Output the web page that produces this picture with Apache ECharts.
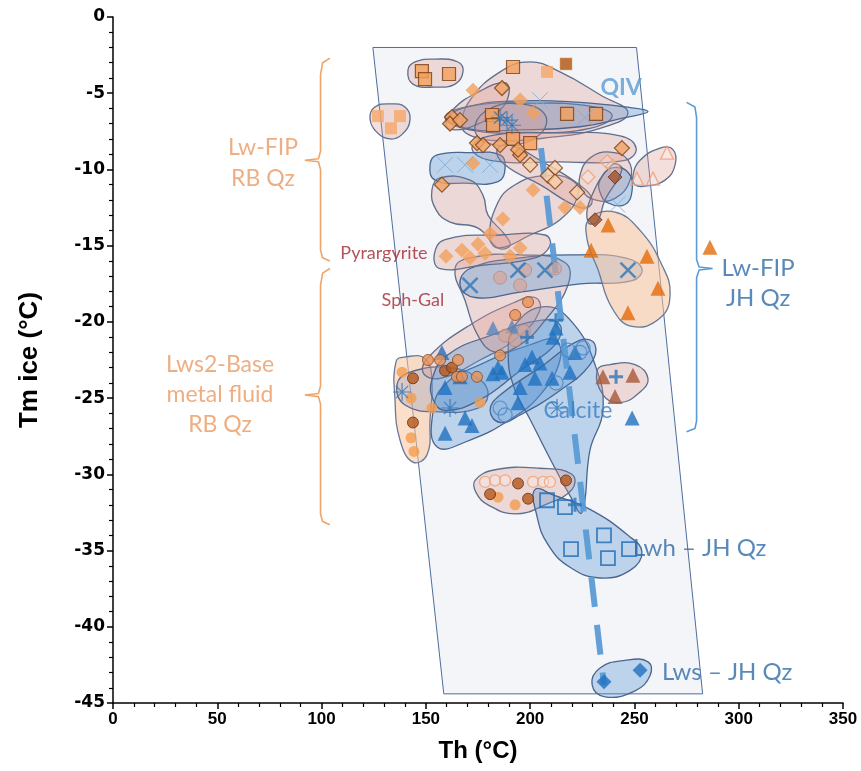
<!DOCTYPE html>
<html><head><meta charset="utf-8">
<script src="https://cdn.jsdelivr.net/npm/echarts@6/dist/echarts.min.js"></script>
<style>html,body{margin:0;padding:0;background:#fff}#c{width:861px;height:771px}</style>
</head><body><div id="c"></div>
<script>
// ---------- axes ----------
const xTicks = [0, 50, 100, 150, 200, 250, 300, 350];
const yTicks = [-45, -40, -35, -30, -25, -20, -15, -10, -5, 0];

// ---------- QIV field (tilted box) ----------
const qivField = [[124.6, -2], [251, -2], [282.7, -44.4], [158.6, -44.4]];

// ---------- trend (dashed) ----------
const trendLine = [[205.2, -8.6], [235.4, -43.8]];

// ---------- envelopes (data coords) ----------
const envTopLeft = [[141.4,-3.5],[144.8,-2.95],[154.4,-2.76],[165.4,-2.95],[167.8,-3.6],[164.0,-4.4],[154.4,-4.6],[143.8,-4.4]];
const envLeftSmall = [[123.2,-6.6],[125.6,-5.9],[132.8,-5.7],[140.0,-5.9],[142.4,-6.75],[138.6,-7.7],[132.8,-8.0],[126.1,-7.5]];
const envBigTop = [[167.3,-7.1],[171.2,-5.45],[185.6,-3.6],[200,-2.95],[214.3,-3.6],[233.5,-5.1],[246.9,-6.3],[233.5,-7.3],[209.5,-7.9],[183.2,-8.1],[170.3,-7.7]];
const envTiltTop = [[159.7,-7.1],[163.5,-6.0],[175.5,-4.9],[187.5,-4.3],[190.0,-4.9],[185.6,-6.1],[173.6,-7.1],[164.0,-7.4]];
const envQIVBlue = [[161.6,-6.6],[171.2,-5.85],[195.2,-5.5],[223.9,-5.6],[245.5,-5.9],[256.5,-6.2],[245.5,-6.6],[223.9,-7.2],[195.2,-7.4],[171.2,-7.35]];
const envTopInner = [[159.2,-6.6],[171.2,-5.85],[200,-5.65],[228.7,-5.85],[239.3,-6.5],[228.7,-7.3],[200,-7.6],[171.2,-7.4]];
const envTopOval = [[173.6,-7.1],[180.8,-6.0],[195.2,-5.7],[207.1,-6.4],[204.7,-7.7],[190.4,-8.4],[177.4,-8.1]];
const envBand9 = [[172.1,-8.6],[180.8,-7.8],[214.3,-7.6],[243.1,-7.8],[250.8,-8.6],[245.5,-9.4],[214.3,-9.5],[180.8,-9.4]];
const envBlueLeft = [[152.0,-9.7],[155.4,-9.05],[171.2,-8.9],[185.6,-9.05],[188.0,-9.9],[184.6,-10.8],[168.8,-10.9],[154.4,-10.7]];
const envHatchBand = [[184.1,-8.7],[190.4,-8.4],[204.7,-9.4],[226.3,-11.3],[229.6,-12.2],[223.9,-12.5],[204.7,-11.0],[187.9,-9.7]];
const envOpenDia = [[223.9,-10.4],[228.7,-9.25],[238.3,-8.86],[247.0,-9.4],[247.9,-10.7],[240.7,-11.9],[231.1,-12.0],[224.8,-11.35]];
const envBlueSmall = [[233.5,-10.7],[239.3,-9.9],[247.0,-10.2],[248.9,-11.35],[245.5,-12.3],[237.4,-12.2],[233.5,-11.5]];
const envTiltRight = [[239.3,-9.7],[244.0,-10.0],[235.9,-12.0],[232.0,-13.45],[227.7,-13.45],[228.7,-12.0]];
const envOpenTri = [[249.3,-10.4],[252.7,-9.4],[262.3,-8.6],[268.5,-8.7],[269.5,-9.7],[264.7,-10.7],[255.1,-11.1],[250.3,-11.0]];
const envTiltLeft = [[152.9,-11.35],[156.8,-10.55],[171.2,-10.7],[177.4,-11.7],[179.8,-13.0],[188.0,-14.3],[190.4,-15.0],[184.6,-15.15],[175.0,-13.85],[161.6,-13.45],[154.9,-12.65]];
const envMid = [[180.8,-14.6],[184.1,-12.3],[192.8,-11.0],[207.1,-10.4],[220.0,-10.7],[222.9,-11.7],[214.3,-13.3],[200.0,-14.3],[185.6,-15.15]];
const envPyrargyrite = [[154.0,-15.6],[159.2,-14.6],[185.6,-14.3],[207.1,-14.3],[209.5,-15.0],[202.3,-15.8],[176.0,-16.3],[156.8,-16.5]];
const envSphGal = [[164.0,-16.5],[171.2,-15.8],[195.2,-15.6],[216.7,-16.1],[218.1,-17.6],[207.1,-19.9],[195.2,-21.5],[183.2,-21.98],[175.0,-20.9],[168.8,-18.6]];
const envJHTri = [[228.7,-13.2],[240.7,-12.8],[252.7,-14.0],[263.3,-16.3],[267.1,-18.2],[262.3,-19.75],[248.9,-20.3],[239.3,-19.1],[232.6,-16.6],[227.2,-14.5]];
const envSphBlue = [[166.4,-17.6],[171.2,-16.5],[195.2,-15.8],[223.9,-15.6],[245.5,-15.8],[253.6,-16.5],[248.9,-17.3],[223.9,-17.5],[195.2,-18.05],[173.6,-18.4]];
const envGalTilt = [[148.6,-23.3],[152.0,-22.2],[171.2,-20.2],[192.8,-18.7],[202.3,-18.4],[204.7,-19.2],[195.2,-20.9],[176.0,-22.5],[156.8,-23.7]];
const envBlueGray = [[152.9,-23.8],[160.1,-22.2],[180.8,-20.9],[204.7,-19.9],[214.3,-20.2],[211.9,-21.5],[195.2,-23.2],[176.0,-25.1],[159.2,-25.8],[153.5,-25.1]];
const envCalcite = [[192.8,-20.2],[207.1,-19.0],[220.0,-20.0],[231.1,-22.8],[234.9,-25.8],[228.7,-28.4],[224.8,-32.5],[219.1,-31.4],[208.5,-28.7],[200.0,-26.4],[192.8,-24.5],[189.5,-22.2]];
const envBlueLow = [[155.4,-28.2],[153.5,-25.8],[159.2,-24.1],[176.0,-22.8],[200.0,-21.5],[211.9,-21.2],[214.3,-22.5],[204.7,-24.8],[190.4,-26.4],[171.2,-27.75]];
const envBlueTilt = [[180.8,-25.8],[185.6,-24.8],[204.7,-23.0],[223.9,-21.2],[231.1,-21.5],[228.7,-22.8],[214.3,-24.5],[195.2,-26.1],[185.6,-26.6]];
const envLws2Gray = [[136.2,-24.1],[142.4,-23.3],[161.6,-23.0],[176.0,-23.8],[179.8,-24.8],[175.0,-25.65],[156.8,-25.9],[140.0,-25.45]];
const envLws2Tall = [[135.7,-22.6],[140.0,-22.3],[149.6,-22.4],[152.9,-23.8],[152.0,-26.4],[150.6,-28.7],[143.8,-29.2],[137.6,-27.75],[135.2,-25.1]];
const envBrownTri = [[232.1,-23.2],[238.3,-22.8],[250.3,-22.8],[256.5,-23.7],[252.7,-24.6],[243.1,-25.3],[235.0,-24.8]];
const envCircles = [[173.6,-30.4],[183.2,-29.7],[204.7,-29.6],[220.0,-30.0],[220.0,-31.0],[207.1,-32.0],[192.8,-32.6],[179.8,-32.0],[174.1,-31.2]];
const envLwh = [[202.3,-31.0],[211.9,-31.4],[228.7,-32.3],[246.9,-34.0],[253.6,-35.1],[247.9,-36.3],[233.5,-36.8],[219.1,-36.1],[208.5,-34.6],[203.2,-32.7]];
const envLws = [[229.7,-43.8],[233.5,-42.7],[245.5,-42.2],[256.5,-42.3],[257.5,-43.2],[250.3,-44.2],[235.9,-44.6]];

const envelopeShapes = [envLws2Tall, envLws2Gray, envBlueLow, envGalTilt, envBlueGray, envCalcite, envBlueTilt,
  envSphGal, envSphBlue, envJHTri, envBrownTri, envCircles, envLwh, envLws,
  envTopLeft, envLeftSmall, envBigTop, envTopInner, envQIVBlue, envTiltTop, envTopOval, envBand9, envBlueLeft,
  envTiltLeft, envMid, envHatchBand, envOpenDia, envBlueSmall, envTiltRight, envOpenTri, envPyrargyrite];
const envelopeGroup = ['orange','gray','blue','pink','blue','blue','blue',
  'pink','blue','orange','pink','pink','blue','blue',
  'pink','pink','pink','pink','blue','pink','pink','pink','blue',
  'pink','pink','pink','pink','blue','pink','pink','pink'];

// ---------- points ----------
const sqOrange = [[148.1,-3.55],[149.6,-4.07],[161.1,-3.74],[191.8,-3.28],[217.7,-6.36],[231.6,-6.36],[191.8,-8.0],[200.0,-8.27],[181.7,-6.43],[182.2,-7.09]];
const sqLight = [[127.0,-6.5],[137.6,-6.5],[133.3,-7.3],[208.1,-3.6]];
const sqBrown = [[217.2,-3.08]];
const diaOrange = [[162.5,-6.56],[161.6,-7.0],[166.4,-6.76],[186.5,-4.66],[174.5,-8.27],[177.4,-8.4],[185.6,-8.4],[195.2,-9.05],[244.0,-8.6],[194.2,-8.7],[157.7,-11.0]];
const diaHatched = [[211.9,-9.9],[208.5,-10.4],[211.9,-10.8],[222.5,-11.5],[200.0,-9.7]];
const diaOpen = [[227.7,-10.5],[236.9,-9.5],[239.7,-9.8]];
const diaBrown = [[240.7,-10.5],[231.1,-13.3]];
const diaLight = [[172.6,-4.8],[201.4,-6.3],[195.2,-5.45],[172.6,-9.6],[201.4,-11.35],[186.9,-13.25],[216.7,-12.5],[223.9,-12.5],
  [159.7,-15.7],[167.3,-15.3],[175.0,-14.9],[171.2,-15.8],[178.4,-15.5],[195.2,-15.15],[190.4,-15.7],[180.8,-14.2]];
const triJH = [[237.4,-13.65],[229.2,-15.3],[256.0,-15.7],[261.3,-17.8],[246.9,-19.4],[286.2,-15.1]];
const triOpen = [[251.2,-10.6],[258.9,-10.6],[265.6,-8.9]];
const triBrown = [[234.9,-23.6],[249.3,-23.5],[240.7,-24.9]];
const triBlue = [[157.7,-22.0],[159.2,-24.3],[166.4,-23.6],[168.8,-26.3],[159.2,-27.3],[172.1,-26.8],[184.6,-23.0],[182.2,-23.4],
  [186.5,-23.3],[194.2,-25.3],[195.2,-24.3],[197.6,-22.8],[200.9,-22.3],[204.7,-22.7],[211.0,-21.0],[202.3,-23.7],[210.5,-23.7],
  [219.1,-23.3],[212.4,-20.4],[248.9,-26.3],[221.5,-22.0]];
const triPale = [[182.2,-20.4],[191.3,-20.3]];
const plusBlue = [[212.4,-19.9],[198.5,-21.0],[241.2,-23.6],[221.5,-32.0]];
const starBlue = [[138.6,-24.6],[161.6,-25.65],[212.9,-25.65],[188.9,-6.76],[185.6,-6.6],[191.3,-7.1]];
const xBlue = [[171.2,-17.6],[194.2,-16.6],[207.1,-16.6],[246.9,-16.6]];
const xPale = [[159.2,-9.7],[168.8,-9.7],[180.8,-9.7],[204.7,-5.45],[226.3,-6.6],[241.7,-12.3]];
const circBlueOpen = [[185.6,-25.65],[188.0,-26.1],[218.1,-21.85],[223.9,-22.0],[225.4,-21.7],[212.4,-24.0]];
const sqBlueOpen = [[208.1,-31.7],[216.7,-32.15],[235.4,-34.0],[247.4,-34.9],[237.3,-35.5],[219.6,-34.9]];
const diaBlue = [[235.4,-43.6],[252.7,-42.85]];
const circOrange = [[138.6,-23.3],[142.9,-25.0],[152.9,-25.65],[142.9,-27.6],[144.3,-28.5],[176.0,-25.3],[184.6,-31.5],[192.8,-32.0]];
const circBrown = [[143.8,-23.7],[143.8,-26.6],[159.2,-23.2],[162.5,-23.0],[194.2,-30.6],[217.2,-30.4],[180.8,-31.3],[199.0,-31.6]];
const circBordered = [[151.0,-22.5],[156.8,-22.5],[165.4,-22.5],[164.9,-23.6],[167.3,-23.6],[174.5,-23.6],[185.6,-22.2],[192.8,-19.55],[199.0,-18.7]];
const circOpen = [[178.4,-30.5],[183.2,-30.4],[188.0,-30.4],[201.4,-30.5],[206.2,-30.5],[209.5,-30.5]];
const circStipple = [[185.6,-17.1],[197.6,-16.6],[211.9,-16.5],[195.2,-17.6],[188.0,-20.9],[192.8,-21.2],[197.0,-20.6]];

// ---------- braces ----------
const braceRB1 = [[104,-2.7],[100.5,-3.0],[99.5,-3.8],[99.5,-8.8],[98.5,-9.3],[92,-9.4],[98.5,-9.5],[99.5,-10.0],[99.5,-15.3],[100.5,-15.8],[104,-16.0]];
const braceRB2 = [[104,-16.5],[100.5,-16.8],[99.5,-17.6],[99.5,-24.2],[98.5,-24.7],[92,-24.8],[98.5,-24.9],[99.5,-25.4],[99.5,-32.6],[100.5,-33.1],[104,-33.3]];
const braceJH = [[275,-5.6],[279,-5.9],[279.8,-6.6],[279.8,-15.9],[281,-16.4],[287.5,-16.5],[281,-16.6],[279.8,-17.1],[279.8,-26.5],[279,-27.0],[275,-27.2]];

// ---------- annotations ----------
const annotTexts = ['QIV', 'Lw-FIP\nRB Qz', 'Lws2-Base\nmetal fluid\nRB Qz', 'Pyrargyrite', 'Sph-Gal', 'Calcite', 'Lwh – JH Qz', 'Lws – JH Qz', 'Lw-FIP\nJH Qz'];
const annotPos = [[243.6,-4.6],[71.9,-9.6],[51.3,-24.8],[129.9,-15.5],[143.8,-18.6],[222.9,-25.8],[249.3,-34.85],[263.2,-43.0],[309.3,-17.45]];

// ---------- styles ----------
const envStyle = {
  pink:   {fill:'rgba(222,150,140,0.30)', stroke:'#5f6f8e'},
  blue:   {fill:'rgba(78,142,210,0.33)', stroke:'#4a6690'},
  orange: {fill:'rgba(250,196,158,0.55)', stroke:'#6a7a95'},
  gray:   {fill:'rgba(140,150,190,0.30)', stroke:'#5a6a90'}
};
const annotStyle = [
  {color:'#5b9bd5', fontSize:23, fontWeight:'bold', align:'center'},
  {color:'#ea9a62', fontSize:23, align:'center', lineHeight:31},
  {color:'#ea9a62', fontSize:23, align:'center', lineHeight:30},
  {color:'#a3262e', fontSize:18, align:'center'},
  {color:'#a3262e', fontSize:18, align:'center'},
  {color:'#3b7fc4', fontSize:23, align:'center'},
  {color:'#2f6ca8', fontSize:24, align:'left'},
  {color:'#2f6ca8', fontSize:24, align:'left'},
  {color:'#2f6ca8', fontSize:24, align:'center', lineHeight:30}
];

const P_X = 'path://M0,0L10,10M10,0L0,10';
const P_PLUS = 'path://M5,0L5,10M0,5L10,5';
const P_STAR = 'path://M5,0L5,10M0,5L10,5M1.6,1.6L8.4,8.4M8.4,1.6L1.6,8.4';

function sc(name, data, symbol, size, item, z) {
  return {type:'scatter', name, data, symbol, symbolSize:size, itemStyle:item, z:z||5, silent:true, animation:false};
}

const chart = echarts.init(document.getElementById('c'));
const font = 'Liberation Sans, Arial, sans-serif';
const calib = 'Lato, Carlito, sans-serif';

const series = [
  {type:'custom', name:'field', data:[[0]], z:1, silent:true, animation:false,
   renderItem:(p, api)=>({type:'polygon', shape:{points:qivField.map(v=>api.coord(v))},
     style:{fill:'#f3f5f8', stroke:'#4d6e9e', lineWidth:1}})},
  {type:'custom', name:'envelopes', data:envelopeShapes.map((s,i)=>[i]), z:2, silent:true, animation:false,
   renderItem:(p, api)=>{
     const st = envStyle[envelopeGroup[p.dataIndex]];
     return {type:'polygon', shape:{points:envelopeShapes[p.dataIndex].map(v=>api.coord(v)), smooth:0.45},
       style:{fill:st.fill, stroke:st.stroke, lineWidth:1.3}};
   }},
  {type:'line', name:'trend', data:trendLine, symbol:'none', z:4, silent:true, animation:false,
   lineStyle:{color:'rgba(91,155,213,0.95)', width:6, type:[30,18], cap:'butt'}},
  {type:'line', data:braceRB1, symbol:'none', z:3, silent:true, animation:false, lineStyle:{color:'#f0a468', width:1.6}},
  {type:'line', data:braceRB2, symbol:'none', z:3, silent:true, animation:false, lineStyle:{color:'#f0a468', width:1.6}},
  {type:'line', data:braceJH, symbol:'none', z:3, silent:true, animation:false, lineStyle:{color:'#5b9bd5', width:1.6}},

  sc('sqOrange', sqOrange, 'rect', 13, {color:'#f4a05a', borderColor:'#7b3f14', borderWidth:1.2}),
  sc('sqLight', sqLight, 'rect', 12, {color:'#f6a866'}),
  sc('sqBrown', sqBrown, 'rect', 12, {color:'#b0520e', borderColor:'#e8a070', borderWidth:0.6}),
  sc('diaOrange', diaOrange, 'diamond', 15, {color:'#f2a262', borderColor:'#7b3f14', borderWidth:1.2}),
  sc('diaHatched', diaHatched, 'diamond', 15, {color:'#f8d0a8', borderColor:'#7b3f14', borderWidth:1.2,
     decal:{symbol:'rect', symbolSize:1, dashArrayX:[1,0], dashArrayY:[1,2], rotation:Math.PI/2, color:'rgba(200,110,50,0.8)'}}),
  sc('diaOpen', diaOpen, 'diamond', 14, {color:'rgba(255,255,255,0.25)', borderColor:'#f0a070', borderWidth:1.3}),
  sc('diaBrown', diaBrown, 'diamond', 14, {color:'#a0522d', borderColor:'#6b3015', borderWidth:1}),
  sc('diaLight', diaLight, 'diamond', 15, {color:'#f3a05c'}),
  sc('triJH', triJH, 'triangle', 15, {color:'#e46c0a'}),
  sc('triOpen', triOpen, 'triangle', 13, {color:'rgba(255,255,255,0.3)', borderColor:'#f09a78', borderWidth:1.3}),
  sc('triBrown', triBrown, 'triangle', 15, {color:'#a9593a'}),
  sc('triBlue', triBlue, 'triangle', 15, {color:'#1f70c1'}),
  sc('triPale', triPale, 'triangle', 14, {color:'#5b85b8'}),
  sc('plusBlue', plusBlue, P_PLUS, 14, {color:'none', borderColor:'#2e75b6', borderWidth:3}, 6),
  sc('starBlue', starBlue, P_STAR, 18, {color:'none', borderColor:'#2e75b6', borderWidth:1.2}, 6),
  sc('xBlue', xBlue, P_X, 15, {color:'none', borderColor:'#2e75b6', borderWidth:2.5}, 6),
  sc('xPale', xPale, P_X, 16, {color:'none', borderColor:'#7aaad8', borderWidth:1}, 6),
  sc('circBlueOpen', circBlueOpen, 'circle', 14, {color:'rgba(255,255,255,0)', borderColor:'#4a86c5', borderWidth:1.2}),
  sc('sqBlueOpen', sqBlueOpen, 'rect', 14, {color:'rgba(255,255,255,0)', borderColor:'#1f6bb5', borderWidth:1.8}),
  sc('diaBlue', diaBlue, 'diamond', 15, {color:'#1f70c1'}),
  sc('circOrange', circOrange, 'circle', 11, {color:'#f39c4f'}),
  sc('circBrown', circBrown, 'circle', 11, {color:'#b5581c', borderColor:'#6b3010', borderWidth:1}),
  sc('circBordered', circBordered, 'circle', 11, {color:'#e8945a', borderColor:'#8a4a20', borderWidth:1}),
  sc('circOpen', circOpen, 'circle', 11, {color:'rgba(255,255,255,0.3)', borderColor:'#f0a070', borderWidth:1.3}),
  sc('circStipple', circStipple, 'circle', 13, {color:'rgba(215,165,150,0.8)', borderColor:'#b08070', borderWidth:0.8}),

  {type:'scatter', name:'annotations', symbolSize:0, z:10, silent:true, animation:false,
   data: annotTexts.map((t,i)=>({value:annotPos[i], label:{show:true, position:'inside', formatter:t,
     fontFamily:calib, ...annotStyle[i]}}))}
];

chart.setOption({
  backgroundColor:'#ffffff',
  animation:false,
  grid:{left:113, right:18, top:17, bottom:68, containLabel:false},
  xAxis:{type:'value', min:0, max:350, interval:50,
    name:'Th (°C)', nameLocation:'middle', nameGap:36,
    nameTextStyle:{fontFamily:font, fontWeight:'bold', fontSize:24, color:'#000'},
    axisLine:{onZero:false, lineStyle:{color:'#000', width:1.5}},
    axisTick:{show:true, length:6, lineStyle:{color:'#000', width:1.5}},
    minorTick:{show:true, splitNumber:5, length:4, lineStyle:{color:'#000', width:1.2}},
    splitLine:{show:false},
    axisLabel:{fontFamily:font, fontWeight:'bold', fontSize:17, color:'#000', margin:8}},
  yAxis:{type:'value', min:-45, max:0, interval:5,
    name:'Tm ice (°C)', nameLocation:'middle', nameGap:70, nameRotate:90,
    nameTextStyle:{fontFamily:font, fontWeight:'bold', fontSize:26, color:'#000'},
    axisLine:{onZero:false, lineStyle:{color:'#000', width:1.5}},
    axisTick:{show:true, length:6, lineStyle:{color:'#000', width:1.5}},
    minorTick:{show:true, splitNumber:5, length:4, lineStyle:{color:'#000', width:1.2}},
    splitLine:{show:false},
    axisLabel:{fontFamily:'DejaVu Sans, sans-serif', fontWeight:'bold', fontSize:17, color:'#000', margin:8}},
  series
});
</script></body></html>
